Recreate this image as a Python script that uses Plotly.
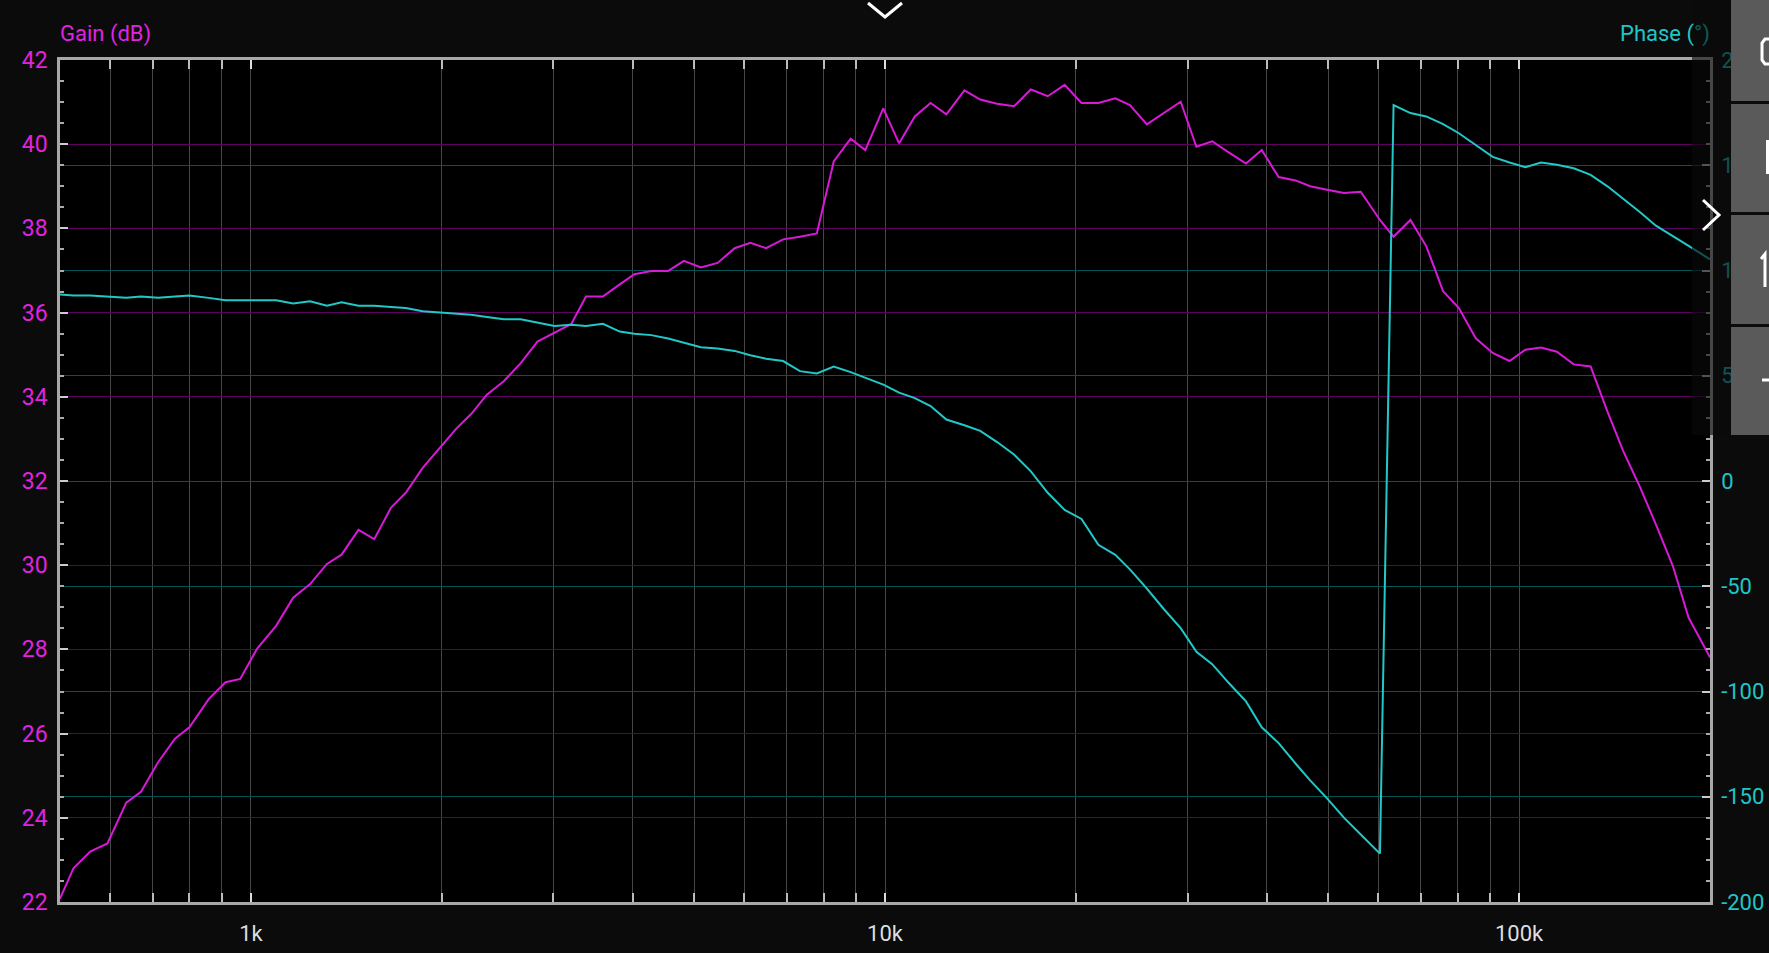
import math
import plotly.graph_objects as go

# ---------------- data ----------------
freq_hz = [500, 525, 558, 594, 636, 671, 714, 759, 800, 858,
           912, 962, 1023, 1096, 1166, 1240, 1318, 1390, 1478, 1565,
           1664, 1755, 1866, 1984, 2110, 2225, 2356, 2505, 2664, 2831,
           3011, 3201, 3376, 3590, 3817, 4025, 4280, 4551, 4818, 5123,
           5446, 5793, 6133, 6494, 6908, 7343, 7807, 8302, 8827, 9309,
           9938, 10525, 11145, 11800, 12497, 13344, 14130, 15024, 15975, 16982,
           18057, 19199, 20411, 21703, 23077, 24336, 25882, 27517, 29261, 30982,
           32810, 34880, 37094, 39271, 41762, 44400, 46823, 49790, 52930, 56270,
           60330, 63390, 67390, 71370, 75880, 80350, 85440, 90850, 96580, 102280,
           108290, 114670, 121930, 129660, 137830, 145960, 155180, 164330, 174780, 185080,
           200000]

gain_db = [22.08, 22.80, 23.20, 23.39, 24.36, 24.62, 25.32, 25.88, 26.15, 26.82,
           27.22, 27.30, 28.02, 28.56, 29.23, 29.55, 30.03, 30.25, 30.84, 30.62,
           31.37, 31.72, 32.31, 32.79, 33.25, 33.59, 34.05, 34.37, 34.80, 35.31,
           35.52, 35.73, 36.38, 36.38, 36.67, 36.91, 36.99, 36.99, 37.23, 37.07,
           37.18, 37.53, 37.66, 37.53, 37.74, 37.80, 37.88, 39.59, 40.13, 39.86,
           40.85, 40.02, 40.66, 40.98, 40.71, 41.28, 41.06, 40.96, 40.90, 41.30,
           41.14, 41.41, 40.98, 40.98, 41.09, 40.93, 40.47, 40.74, 41.01, 39.94,
           40.07, 39.80, 39.54, 39.86, 39.22, 39.14, 39.00, 38.92, 38.84, 38.87,
           38.20, 37.80, 38.20, 37.58, 36.51, 36.11, 35.39, 35.04, 34.85, 35.12,
           35.17, 35.07, 34.77, 34.72, 33.65, 32.71, 31.85, 30.97, 29.98, 28.75,
           27.81]

phase_deg = [88.6, 88.1, 88.1, 87.6, 87.0, 87.6, 87.0, 87.6, 88.1, 87.0,
             85.9, 85.9, 85.9, 85.9, 84.3, 85.4, 83.3, 84.9, 83.3, 83.3,
             82.7, 82.2, 80.6, 80.1, 79.5, 79.0, 77.9, 76.8, 76.8, 75.2,
             73.6, 74.2, 73.6, 74.7, 71.0, 69.9, 69.3, 67.7, 65.6, 63.5,
             62.9, 61.8, 59.7, 58.1, 57.0, 52.2, 51.1, 54.4, 51.7, 49.0,
             45.8, 42.0, 39.4, 35.6, 29.2, 26.5, 23.8, 18.5, 12.6, 4.6,
             -5.6, -13.7, -18.0, -30.3, -35.1, -42.0, -51.1, -60.8, -69.9, -81.1,
             -87.0, -96.1, -104.7, -117.0, -124.5, -134.2, -142.2, -150.8, -159.9, -167.9,
             -177.0, 178.6, 174.8, 173.2, 169.5, 165.2, 159.8, 154.0, 151.3, 149.1,
             151.3, 150.2, 148.6, 145.4, 140.0, 134.1, 127.7, 121.3, 116.5, 111.7,
             105.3]

x_tick_vals = [1000, 10000, 100000]
x_tick_text = ["1k", "10k", "100k"]
phase_tick_vals = [-200, -150, -100, -50, 0, 50, 100, 150, 200]
phase_tick_text = ["-200", "-150", "-100", "-50", "0", "50", "100", "150", "200"]
freq_range = [500, 200000]
gain_range = [22, 42]
phase_range = [-200, 200]

# ---------------- style ----------------
W, H = 1769, 953
L, R, T, B = 60, 1710, 60, 902   # plot area in pixels
PAPER = "#0b0b0b"
MAG = "#d81ad8"
MAG_TXT = "#e023e0"
CYAN = "#22c8c8"
CYAN_TXT = "#1fc6c6"
GRID_V = "#464646"
GRID_MAG = "#5e005e"
GRID_CYAN = "#005656"
AXIS = "#a8a8a8"
FONT = "Roboto"


def px(x):
    return (x - L) / (R - L)


def py(y):
    return (B - y) / (B - T)


minor_freqs = [m * 10 ** e for e in range(2, 6) for m in range(2, 10)
               if freq_range[0] < m * 10 ** e < freq_range[1]]

fig = go.Figure()
fig.add_trace(go.Scatter(x=freq_hz, y=gain_db, mode="lines", yaxis="y",
                         line=dict(color=MAG, width=2), showlegend=False))
fig.add_trace(go.Scatter(x=freq_hz, y=phase_deg, mode="lines", yaxis="y2",
                         line=dict(color=CYAN, width=2), showlegend=False))

fig.update_layout(
    width=W, height=H, autosize=False,
    margin=dict(l=L, r=W - R, t=T, b=H - B, pad=0, autoexpand=False),
    paper_bgcolor=PAPER, plot_bgcolor="#000000",
    font=dict(family=FONT, color="#dddddd"),
    showlegend=False,
    xaxis=dict(
        type="log",
        range=[math.log10(freq_range[0]), math.log10(freq_range[1])],
        tickmode="array", tickvals=x_tick_vals, ticktext=x_tick_text,
        ticks="inside", ticklen=9, tickwidth=2, tickcolor="#dddddd",
        showgrid=True, gridcolor=GRID_V, gridwidth=1,
        minor=dict(tickmode="array", tickvals=minor_freqs, ticks="inside",
                   ticklen=5, tickwidth=1.5, tickcolor="#bbbbbb",
                   showgrid=True, gridcolor=GRID_V, gridwidth=1),
        showline=True, linecolor=AXIS, linewidth=2.5, mirror="allticks",
        zeroline=False, automargin=False,
        tickfont=dict(family=FONT, size=22, color="#dedede"),
        ticklabelstandoff=10,
    ),
    yaxis=dict(
        range=gain_range, tickmode="linear", tick0=22, dtick=2,
        ticks="inside", ticklen=8, tickwidth=2, tickcolor="#cccccc",
        minor=dict(dtick=0.5, tick0=22, ticks="inside", ticklen=4,
                   tickwidth=1.5, tickcolor="#aaaaaa", showgrid=False),
        showgrid=True, gridcolor=GRID_MAG, gridwidth=1.2,
        showline=True, linecolor=AXIS, linewidth=2.5,
        zeroline=False, automargin=False,
        tickfont=dict(family=FONT, size=23, color=MAG_TXT),
        ticklabelstandoff=5,
    ),
    yaxis2=dict(
        range=phase_range, overlaying="y", side="right", anchor="x",
        tickmode="array", tickvals=phase_tick_vals, ticktext=phase_tick_text,
        ticks="inside", ticklen=8, tickwidth=2, tickcolor="#cccccc",
        minor=dict(dtick=10, tick0=0, ticks="inside", ticklen=4,
                   tickwidth=1.5, tickcolor="#aaaaaa", showgrid=False),
        showgrid=True, gridcolor=GRID_CYAN, gridwidth=1.2,
        showline=True, linecolor=AXIS, linewidth=2.5,
        zeroline=False, automargin=False,
        tickfont=dict(family=FONT, size=22, color=CYAN_TXT),
        ticklabelstandoff=4,
    ),
)

# axis titles
fig.add_annotation(x=px(58), y=py(34), xref="paper", yref="paper",
                   xanchor="left", yanchor="middle", showarrow=False,
                   text="Gain (dB)", font=dict(family=FONT, size=22, color=MAG_TXT))
fig.add_annotation(x=px(1712), y=py(34), xref="paper", yref="paper",
                   xanchor="right", yanchor="middle", showarrow=False,
                   text="Phase (<span style='color:#0d5a5a'>°)</span>",
                   font=dict(family=FONT, size=22, color=CYAN_TXT))

shapes = []
# translucent side strip
shapes.append(dict(type="rect", xref="paper", yref="paper", layer="above",
                   x0=px(1692), x1=px(1731), y0=py(435), y1=py(0),
                   fillcolor="rgba(10,10,10,0.62)", line=dict(width=0)))
# side buttons
for y0, y1 in [(0, 101), (104, 212), (215, 324), (327, 435)]:
    shapes.append(dict(type="rect", xref="paper", yref="paper", layer="above",
                       x0=px(1731), x1=px(1770), y0=py(y1), y1=py(y0),
                       fillcolor="#5a5a5a", line=dict(width=0)))


def path(points):
    return "M " + " L ".join(f"{px(a):.5f},{py(b):.5f}" for a, b in points)


white = dict(color="#ffffff", width=3)
icon_paths = [
    [(1770, 39), (1765, 39), (1762, 43), (1762, 60), (1765, 64), (1770, 64)],
    [(1767.5, 140), (1767.5, 174)],
    [(1765, 287), (1765, 254), (1761, 259)],
    [(1762, 380), (1770, 380)],
    [(1703, 200), (1719, 215), (1703, 230)],
    [(868, 3), (885, 17), (902, 3)],
]
for pts in icon_paths:
    shapes.append(dict(type="path", xref="paper", yref="paper", layer="above",
                       path=path(pts), line=white))

fig.update_layout(shapes=shapes)

fig.write_html(
    "out.html",
    config={"displayModeBar": False},
    post_script="document.body.style.margin='0px';document.body.style.padding='0px';"
                "document.body.style.overflow='hidden';document.body.style.background='#0b0b0b';",
)
